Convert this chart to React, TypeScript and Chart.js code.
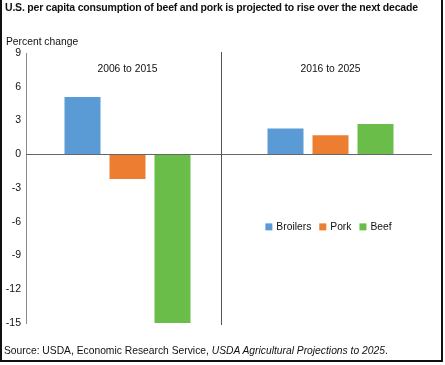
import React, { useEffect, useRef } from 'react';
import { Chart, registerables } from 'chart.js';

Chart.register(...registerables);

const categories = ['2006 to 2015', '2016 to 2025'];
const seriesNames = ['Broilers', 'Pork', 'Beef'];
const broilers = [5.1, 2.3];
const pork = [-2.2, 1.7];
const beef = [-15.1, 2.7];
const seriesColors = ['#5B9BD5', '#ED7D31', '#6BBD4A'];
const yMin = -15;
const yMax = 9;
const yStep = 3;

const FONT = '"Liberation Sans", Arial, Helvetica, sans-serif';

const overlayPlugin = {
  id: 'overlay',
  afterDatasetsDraw(chart: any) {
    const { ctx, chartArea, scales } = chart;
    const { left, right, top, bottom } = chartArea;
    ctx.save();
    // zero line
    const y0 = Math.round(scales.y.getPixelForValue(0)) + 0.5;
    ctx.strokeStyle = '#666';
    ctx.lineWidth = 1;
    ctx.beginPath();
    ctx.moveTo(left, y0);
    ctx.lineTo(right, y0);
    ctx.stroke();
    // divider
    const xd = Math.round(left + (right - left) * 0.48) + 0.5;
    ctx.strokeStyle = '#555';
    ctx.beginPath();
    ctx.moveTo(xd, top - 1);
    ctx.lineTo(xd, bottom + 2);
    ctx.stroke();
    // category labels
    ctx.font = `10.3px ${FONT}`;
    ctx.fillStyle = '#111';
    ctx.textAlign = 'center';
    ctx.textBaseline = 'middle';
    categories.forEach((c, i) => {
      ctx.fillText(c, scales.x.getPixelForValue(i), top + 16);
    });
    // legend
    const ly = top + (bottom - top) * 0.644;
    const box = 7;
    const gapBox = 4;
    const gapItem = 8;
    const ds = chart.data.datasets;
    const widths = ds.map((d: any) => box + gapBox + ctx.measureText(d.label).width);
    const total = widths.reduce((a: number, b: number) => a + b, 0) + gapItem * (ds.length - 1);
    let x = scales.x.getPixelForValue(1) - total / 2 - 2;
    ctx.textAlign = 'left';
    ds.forEach((d: any, i: number) => {
      ctx.fillStyle = d.backgroundColor;
      ctx.fillRect(x, ly - box / 2, box, box);
      ctx.fillStyle = '#111';
      ctx.fillText(d.label, x + box + gapBox, ly);
      x += widths[i] + gapItem;
    });
    ctx.restore();
  },
};

export default function App() {
  const canvasRef = useRef<HTMLCanvasElement>(null);

  useEffect(() => {
    document.body.style.margin = '0';
    const chart = new Chart(canvasRef.current!, {
      type: 'bar',
      data: {
        labels: categories,
        datasets: [broilers, pork, beef].map((vals, i) => ({
          label: seriesNames[i],
          data: vals,
          backgroundColor: seriesColors[i],
          borderWidth: 0,
          categoryPercentage: 0.665,
          barPercentage: 0.8,
        })),
      },
      options: {
        animation: false,
        responsive: false,
        maintainAspectRatio: false,
        layout: { padding: { left: 0, right: 13, top: 53, bottom: 42 } },
        plugins: { legend: { display: false }, tooltip: { enabled: false } },
        scales: {
          x: { display: false },
          y: {
            min: yMin,
            max: yMax,
            afterFit: (s: any) => {
              s.width = 26;
            },
            ticks: {
              stepSize: yStep,
              padding: 5,
              color: '#111',
              font: { family: FONT, size: 10.5 },
            },
            grid: { display: false, drawTicks: false },
            border: { display: true, color: '#8a8a8a', width: 1 },
          },
        },
      },
      plugins: [overlayPlugin],
    });
    return () => chart.destroy();
  }, []);

  return (
    <div style={{ position: 'relative', width: 445, height: 365, background: '#fff', fontFamily: FONT, color: '#111' }}>
      <canvas ref={canvasRef} width={445} height={365} style={{ position: 'absolute', left: 0, top: 0 }} />
      <div style={{ position: 'absolute', left: 0, top: -2, width: 443, height: 364, border: '2px solid #111', boxSizing: 'border-box', pointerEvents: 'none' }} />
      <div style={{ position: 'absolute', left: 5, top: 1, fontSize: 10.5, fontWeight: 'bold', whiteSpace: 'nowrap', letterSpacing: -0.2 }}>
        U.S. per capita consumption of beef and pork is projected to rise over the next decade
      </div>
      <div style={{ position: 'absolute', left: 6, top: 36, fontSize: 10.3, whiteSpace: 'nowrap' }}>Percent change</div>
      <div style={{ position: 'absolute', left: 4, top: 345, fontSize: 10.3, whiteSpace: 'nowrap' }}>
        Source: USDA, Economic Research Service, <i>USDA Agricultural Projections to 2025</i>.
      </div>
    </div>
  );
}
